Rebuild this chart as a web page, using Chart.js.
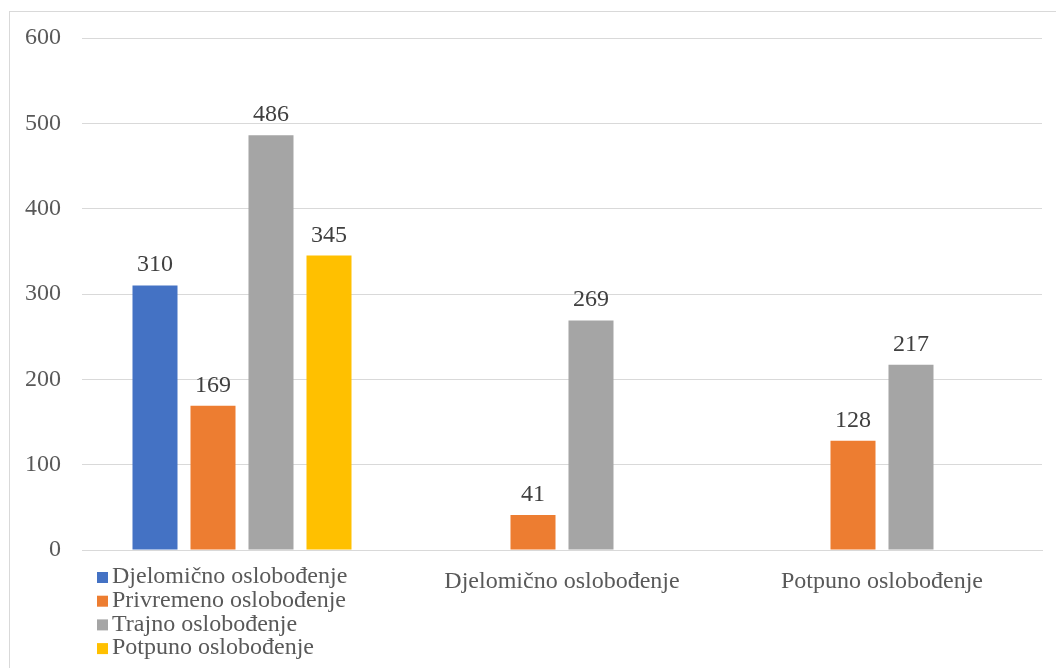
<!DOCTYPE html>
<html>
<head>
<meta charset="utf-8">
<script src="https://cdn.jsdelivr.net/npm/chart.js@4"></script>
<style>
  body { margin: 0; overflow: hidden; background: #fff; }
  #frame { position: absolute; left: 9px; top: 11px; width: 1100px; height: 700px; border: 1px solid #d9d9d9; }
  #wrap { position: absolute; left: 0; top: 0; width: 1056px; height: 668px; }
</style>
</head>
<body>
<div id="frame"></div>
<div id="wrap"><canvas id="myChart"></canvas></div>
<script>
// data
let categories = ["", "Djelomično oslobođenje", "Potpuno oslobođenje"];
let seriesNames = ["Djelomično oslobođenje", "Privremeno oslobođenje", "Trajno oslobođenje", "Potpuno oslobođenje"];
let djelomicno = [310, null, null];
let privremeno = [169, 41, 128];
let trajno = [486, 269, 217];
let potpuno = [345, null, null];
let colors = ["#4472C4", "#ED7D31", "#A5A5A5", "#FFC000"];

const serif = "'Liberation Serif', 'Times New Roman', serif";

// value labels above each bar
const valueLabels = {
  id: "valueLabels",
  afterDatasetsDraw(chart) {
    const ctx = chart.ctx;
    ctx.save();
    ctx.font = "24px " + serif;
    ctx.fillStyle = "#404040";
    ctx.textAlign = "center";
    ctx.textBaseline = "alphabetic";
    chart.data.datasets.forEach(function (ds, i) {
      const meta = chart.getDatasetMeta(i);
      meta.data.forEach(function (bar, j) {
        if (ds.data[j] === null) return;
        ctx.fillText(ds.data[j], bar.x, bar.y - 14);
      });
    });
    ctx.restore();
  }
};

// legend stacked in the bottom left corner
const cornerLegend = {
  id: "cornerLegend",
  afterDraw(chart) {
    const ctx = chart.ctx;
    ctx.save();
    ctx.font = "24px " + serif;
    ctx.textBaseline = "middle";
    ctx.textAlign = "left";
    chart.data.datasets.forEach(function (ds, i) {
      let y = 577 + i * 23.7;
      ctx.fillStyle = ds.backgroundColor;
      ctx.fillRect(97, y - 5, 11, 11);
      ctx.fillStyle = "#595959";
      ctx.fillText(ds.label, 112, y);
    });
    ctx.restore();
  }
};

let values = [djelomicno, privremeno, trajno, potpuno];
let datasets = values.map(function (v, i) {
  return {
    label: seriesNames[i],
    data: v,
    backgroundColor: colors[i],
    categoryPercentage: 0.725,
    barPercentage: 0.776
  };
});

new Chart(document.getElementById("myChart"), {
  type: "bar",
  data: { labels: categories, datasets: datasets },
  plugins: [valueLabels, cornerLegend],
  options: {
    responsive: true,
    maintainAspectRatio: false,
    animation: false,
    layout: { padding: { top: 38, right: 14, left: 0, bottom: 0 } },
    plugins: { legend: { display: false }, tooltip: { enabled: false } },
    scales: {
      x: {
        grid: { display: false, drawTicks: false },
        border: { display: true, color: "#d9d9d9", width: 1 },
        ticks: { font: { family: serif, size: 24 }, color: "#595959", padding: 17 },
        afterFit: function (scale) { scale.height = 118; }
      },
      y: {
        min: 0,
        max: 600,
        ticks: { stepSize: 100, font: { family: serif, size: 24 }, color: "#595959", padding: 21 },
        grid: { color: "#d9d9d9", drawTicks: false },
        border: { display: false },
        afterFit: function (scale) { scale.width = 82; }
      }
    }
  }
});
</script>
</body>
</html>
